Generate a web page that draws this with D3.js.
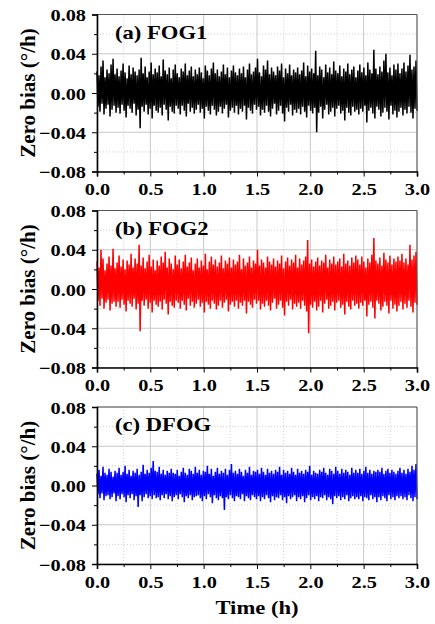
<!DOCTYPE html>
<html>
<head>
<meta charset="utf-8">
<title>Zero bias</title>
<script src="https://cdnjs.cloudflare.com/ajax/libs/d3/7.8.5/d3.min.js"></script>
<style>
    body { margin: 0; background: #fff; }
    svg text { font-family: "Liberation Serif", "Times New Roman", serif; font-weight: bold; fill: #000; }
</style>
</head>
<body>
<div id="chart"></div>
<script>
var unit = 0.001;

var panelNames = ["(a) FOG1", "(b) FOG2", "(c) DFOG"];
var panelColors = ["#000000", "#ff0000", "#0000ff"];

var fog1Hi = [22,18,27,33,16,24,20,29,35,19, 25,17,23,30,21,15,28,19,26,22,
              18,24,36,20,27,16,22,31,19,25, 21,28,17,34,23,19,26,15,24,29,
              20,16,25,22,30,18,23,27,17,24, 19,26,21,15,28,23,18,25,31,20,
              24,17,22,29,19,26,16,23,28,21, 18,25,20,27,16,24,30,19,22,26,
              35,21,17,28,24,33,19,26,22,18, 27,23,30,16,25,20,29,18,24,21,
              26,19,23,31,17,28,22,25,20,43, 18,27,24,16,29,21,26,19,32,23,
              20,28,17,25,22,30,19,24,27,16, 23,29,21,26,18,31,24,20,44,25,
              19,27,22,33,40,21,26,18,29,24, 30,20,25,31,22,28,39,24,27,33];
var fog1Lo = [-14,-19,-11,-22,-16,-12,-24,-17,-13,-20, -15,-21,-12,-18,-25,-13,-16,-20,-11,-23,
              -17,-36,-14,-19,-12,-22,-16,-26,-13,-18, -20,-15,-23,-12,-17,-28,-14,-19,-21,-13,
              -16,-22,-13,-18,-24,-11,-19,-15,-21,-17, -12,-20,-16,-26,-14,-18,-22,-13,-17,-23,
              -19,-14,-21,-16,-12,-25,-18,-15,-20,-13, -22,-16,-19,-13,-27,-15,-18,-21,-12,-17,
              -14,-23,-17,-20,-13,-19,-24,-16,-11,-22, -18,-13,-21,-29,-15,-19,-12,-23,-17,-20,
              -16,-22,-14,-19,-25,-13,-18,-21,-15,-40, -20,-14,-26,-17,-12,-22,-19,-15,-24,-16,
              -13,-21,-18,-28,-15,-20,-23,-14,-19,-17, -22,-16,-19,-13,-30,-18,-15,-21,-26,-14,
              -17,-24,-20,-15,-19,-27,-13,-22,-18,-25, -19,-15,-23,-17,-21,-14,-20,-26,-16,-18];

var fog2Hi = [28,22,40,31,19,26,33,24,41,21, 27,34,23,30,20,29,25,36,22,31,
              26,45,24,32,21,28,35,23,30,19, 29,24,33,27,38,22,31,26,20,34,
              25,30,21,28,35,23,27,32,19,26, 31,22,29,24,36,20,28,33,25,30,
              23,27,34,21,29,26,32,22,30,25, 28,35,20,31,24,27,33,22,29,26,
              40,24,30,27,22,33,28,25,31,23, 29,26,34,21,28,32,24,30,27,35,
              22,31,25,29,33,50,26,30,23,28, 32,24,29,27,35,22,30,26,33,25,
              28,31,23,36,26,29,24,32,27,34, 30,25,33,28,22,31,27,35,52,29,
              26,32,24,37,30,27,34,25,31,28, 33,29,36,27,31,25,45,30,34,38];
var fog2Lo = [-12,-17,-10,-20,-14,-11,-22,-15,-13,-18, -13,-19,-11,-16,-23,-12,-15,-18,-10,-21,
              -15,-43,-12,-17,-11,-20,-14,-24,-12,-16, -18,-13,-21,-11,-15,-26,-13,-17,-19,-12,
              -14,-20,-12,-16,-22,-10,-17,-13,-19,-15, -11,-18,-14,-24,-13,-16,-20,-12,-15,-21,
              -17,-12,-19,-14,-11,-23,-16,-13,-18,-12, -20,-14,-17,-12,-25,-13,-16,-19,-11,-15,
              -12,-21,-15,-18,-12,-17,-22,-14,-10,-20, -16,-12,-19,-27,-13,-17,-11,-21,-15,-18,
              -14,-20,-12,-17,-23,-45,-16,-19,-13,-22, -18,-12,-24,-15,-11,-20,-17,-13,-22,-14,
              -12,-19,-16,-26,-13,-18,-21,-12,-17,-15, -20,-14,-17,-12,-28,-16,-13,-19,-30,-12,
              -15,-22,-18,-13,-17,-25,-12,-20,-16,-23, -17,-13,-21,-15,-19,-12,-18,-24,-14,-16];

var dfogHi = [12,16,10,19,13,11,17,14,9,15, 13,18,11,14,20,12,16,10,15,13,
              17,11,14,21,12,16,13,18,25,15, 14,19,12,16,11,15,13,17,13,12,
              16,10,14,18,13,11,17,15,12,19, 13,16,11,15,14,20,12,17,10,14,
              18,12,15,13,17,11,16,22,13,15, 12,17,14,10,16,13,19,11,15,14,
              16,12,18,14,11,17,13,15,12,16, 14,19,11,16,13,15,12,18,14,11,
              17,13,15,12,16,14,20,11,15,13, 12,16,14,18,13,11,17,15,12,19,
              15,12,17,13,16,14,11,18,13,16, 13,17,12,15,19,13,16,12,15,14,
              16,14,18,12,15,17,13,16,14,12, 15,18,13,16,12,17,14,20,16,22];
var dfogLo = [-9,-13,-8,-15,-11,-10,-14,-12,-8,-16, -11,-14,-9,-12,-17,-10,-13,-9,-15,-11,
              -22,-10,-16,-12,-9,-13,-11,-14,-10,-13, -12,-15,-10,-13,-9,-14,-11,-16,-12,-10,
              -14,-9,-12,-17,-11,-13,-10,-15,-12,-11, -10,-13,-16,-11,-14,-9,-12,-18,-10,-13,
              -15,-11,-13,-25,-12,-14,-10,-13,-16,-11, -12,-14,-9,-16,-11,-13,-15,-10,-12,-14,
              -11,-16,-12,-14,-10,-13,-17,-11,-15,-12, -13,-10,-15,-12,-18,-11,-14,-12,-10,-16,
              -12,-14,-11,-17,-13,-10,-15,-12,-14,-11, -16,-12,-13,-10,-15,-12,-14,-19,-11,-13,
              -11,-15,-12,-14,-10,-16,-13,-11,-14,-12, -14,-11,-16,-12,-13,-15,-10,-14,-12,-17,
              -12,-15,-11,-13,-16,-10,-14,-12,-15,-11, -13,-11,-14,-12,-15,-10,-13,-16,-12,-14];

var timeDomain = [0, 3];
var xTicks = [0, 0.5, 1.0, 1.5, 2.0, 2.5, 3.0];
var xMinor = [0.25, 0.75, 1.25, 1.75, 2.25, 2.75];
var yTicks = [-0.08, -0.04, 0, 0.04, 0.08];
var yMinor = [-0.06, -0.02, 0.02, 0.06];

var width = 435, height = 624;
var left = 97, right = 417;
var panelTops = [14.5, 210.5, 407];
var panelH = 157;
var sx = 1.16; // reference type is a little wide

var svg = d3.select("#chart").append("svg")
    .attr("width", width)
    .attr("height", height);

svg.append("rect").attr("width", width).attr("height", height).attr("fill", "#fff");

var x = d3.scaleLinear().domain(timeDomain).range([left, right]);

var series = [[fog1Hi, fog1Lo], [fog2Hi, fog2Lo], [dfogHi, dfogLo]];

series.forEach(function(s, p) {
    var top = panelTops[p];
    var y = d3.scaleLinear().domain([-0.08, 0.08]).range([top + panelH, top]);
    var g = svg.append("g");

    // grid
    g.selectAll(".gxm").data(xMinor).enter().append("line")
        .attr("x1", d => x(d)).attr("x2", d => x(d))
        .attr("y1", top).attr("y2", top + panelH)
        .attr("stroke", "#cfcfcf").attr("stroke-dasharray", "1,2");
    g.selectAll(".gym").data(yMinor).enter().append("line")
        .attr("x1", left).attr("x2", right)
        .attr("y1", d => y(d)).attr("y2", d => y(d))
        .attr("stroke", "#cfcfcf").attr("stroke-dasharray", "1,2");
    g.selectAll(".gx").data(xTicks).enter().append("line")
        .attr("x1", d => x(d)).attr("x2", d => x(d))
        .attr("y1", top).attr("y2", top + panelH)
        .attr("stroke", "#c8c8c8").attr("stroke-width", 1);
    g.selectAll(".gy").data(yTicks).enter().append("line")
        .attr("x1", left).attr("x2", right)
        .attr("y1", d => y(d)).attr("y2", d => y(d))
        .attr("stroke", "#c8c8c8").attr("stroke-width", 1);

    // signal: alternate upper and lower peaks
    var hi = s[0], lo = s[1];
    var pts = [];
    hi.forEach(function(v, i) {
        pts.push(v * unit);
        pts.push(lo[i] * unit);
    });
    var xi = d3.scaleLinear().domain([0, pts.length - 1]).range(timeDomain);
    var line = d3.line()
        .x((d, i) => x(xi(i)))
        .y(d => y(d));
    g.append("path")
        .datum(pts)
        .attr("d", line)
        .attr("fill", "none")
        .attr("stroke", panelColors[p])
        .attr("stroke-width", 1.5);

    // frame
    g.append("path")
        .attr("d", "M" + left + "," + top + "H" + right + "V" + (top + panelH))
        .attr("fill", "none").attr("stroke", "#555").attr("stroke-width", 1);

    // axes
    var ya = g.append("g").attr("transform", "translate(" + left + ",0)")
        .call(d3.axisLeft(y).tickValues(yTicks).tickSize(5)
            .tickFormat(d3.format(".2f")));
    ya.select(".domain").attr("stroke-width", 1.6);
    ya.selectAll("text")
        .attr("x", -11 / sx)
        .attr("dy", "0.35em")
        .attr("transform", "scale(" + sx + ",1)")
        .style("font-size", "17.5px");
    g.append("g").attr("transform", "translate(" + left + ",0)")
        .call(d3.axisLeft(y).tickValues(yMinor).tickSize(3).tickFormat(""))
        .select(".domain").remove();

    var xa = g.append("g").attr("transform", "translate(0," + (top + panelH) + ")")
        .call(d3.axisBottom(x).tickValues(xTicks).tickSize(5)
            .tickFormat(d3.format(".1f")));
    xa.select(".domain").attr("stroke-width", 1.6);
    xa.selectAll("text")
        .attr("y", 24).attr("dy", null)
        .attr("transform", "scale(" + sx + ",1)")
        .style("font-size", "17.5px");
    g.append("g").attr("transform", "translate(0," + (top + panelH) + ")")
        .call(d3.axisBottom(x).tickValues(xMinor).tickSize(3).tickFormat(""))
        .select(".domain").remove();
    svg.selectAll(".tick line").attr("stroke", "#000");
    svg.selectAll(".domain").attr("stroke", "#000");

    // panel title
    g.append("text")
        .attr("transform", "translate(" + (left + 18) + "," + (top + 24) + ") scale(" + sx + ",1)")
        .style("font-size", "19.5px")
        .text(panelNames[p]);

    // y label
    g.append("text")
        .attr("transform", "translate(35," + (top + panelH / 2) + ") rotate(-90)")
        .attr("text-anchor", "middle")
        .style("font-size", "21px")
        .text("Zero bias (\u00b0/h)");
});

svg.append("text")
    .attr("transform", "translate(" + ((left + right) / 2) + ",614) scale(" + sx + ",1)")
    .attr("text-anchor", "middle")
    .style("font-size", "19.5px")
    .text("Time (h)");
</script>
</body>
</html>
